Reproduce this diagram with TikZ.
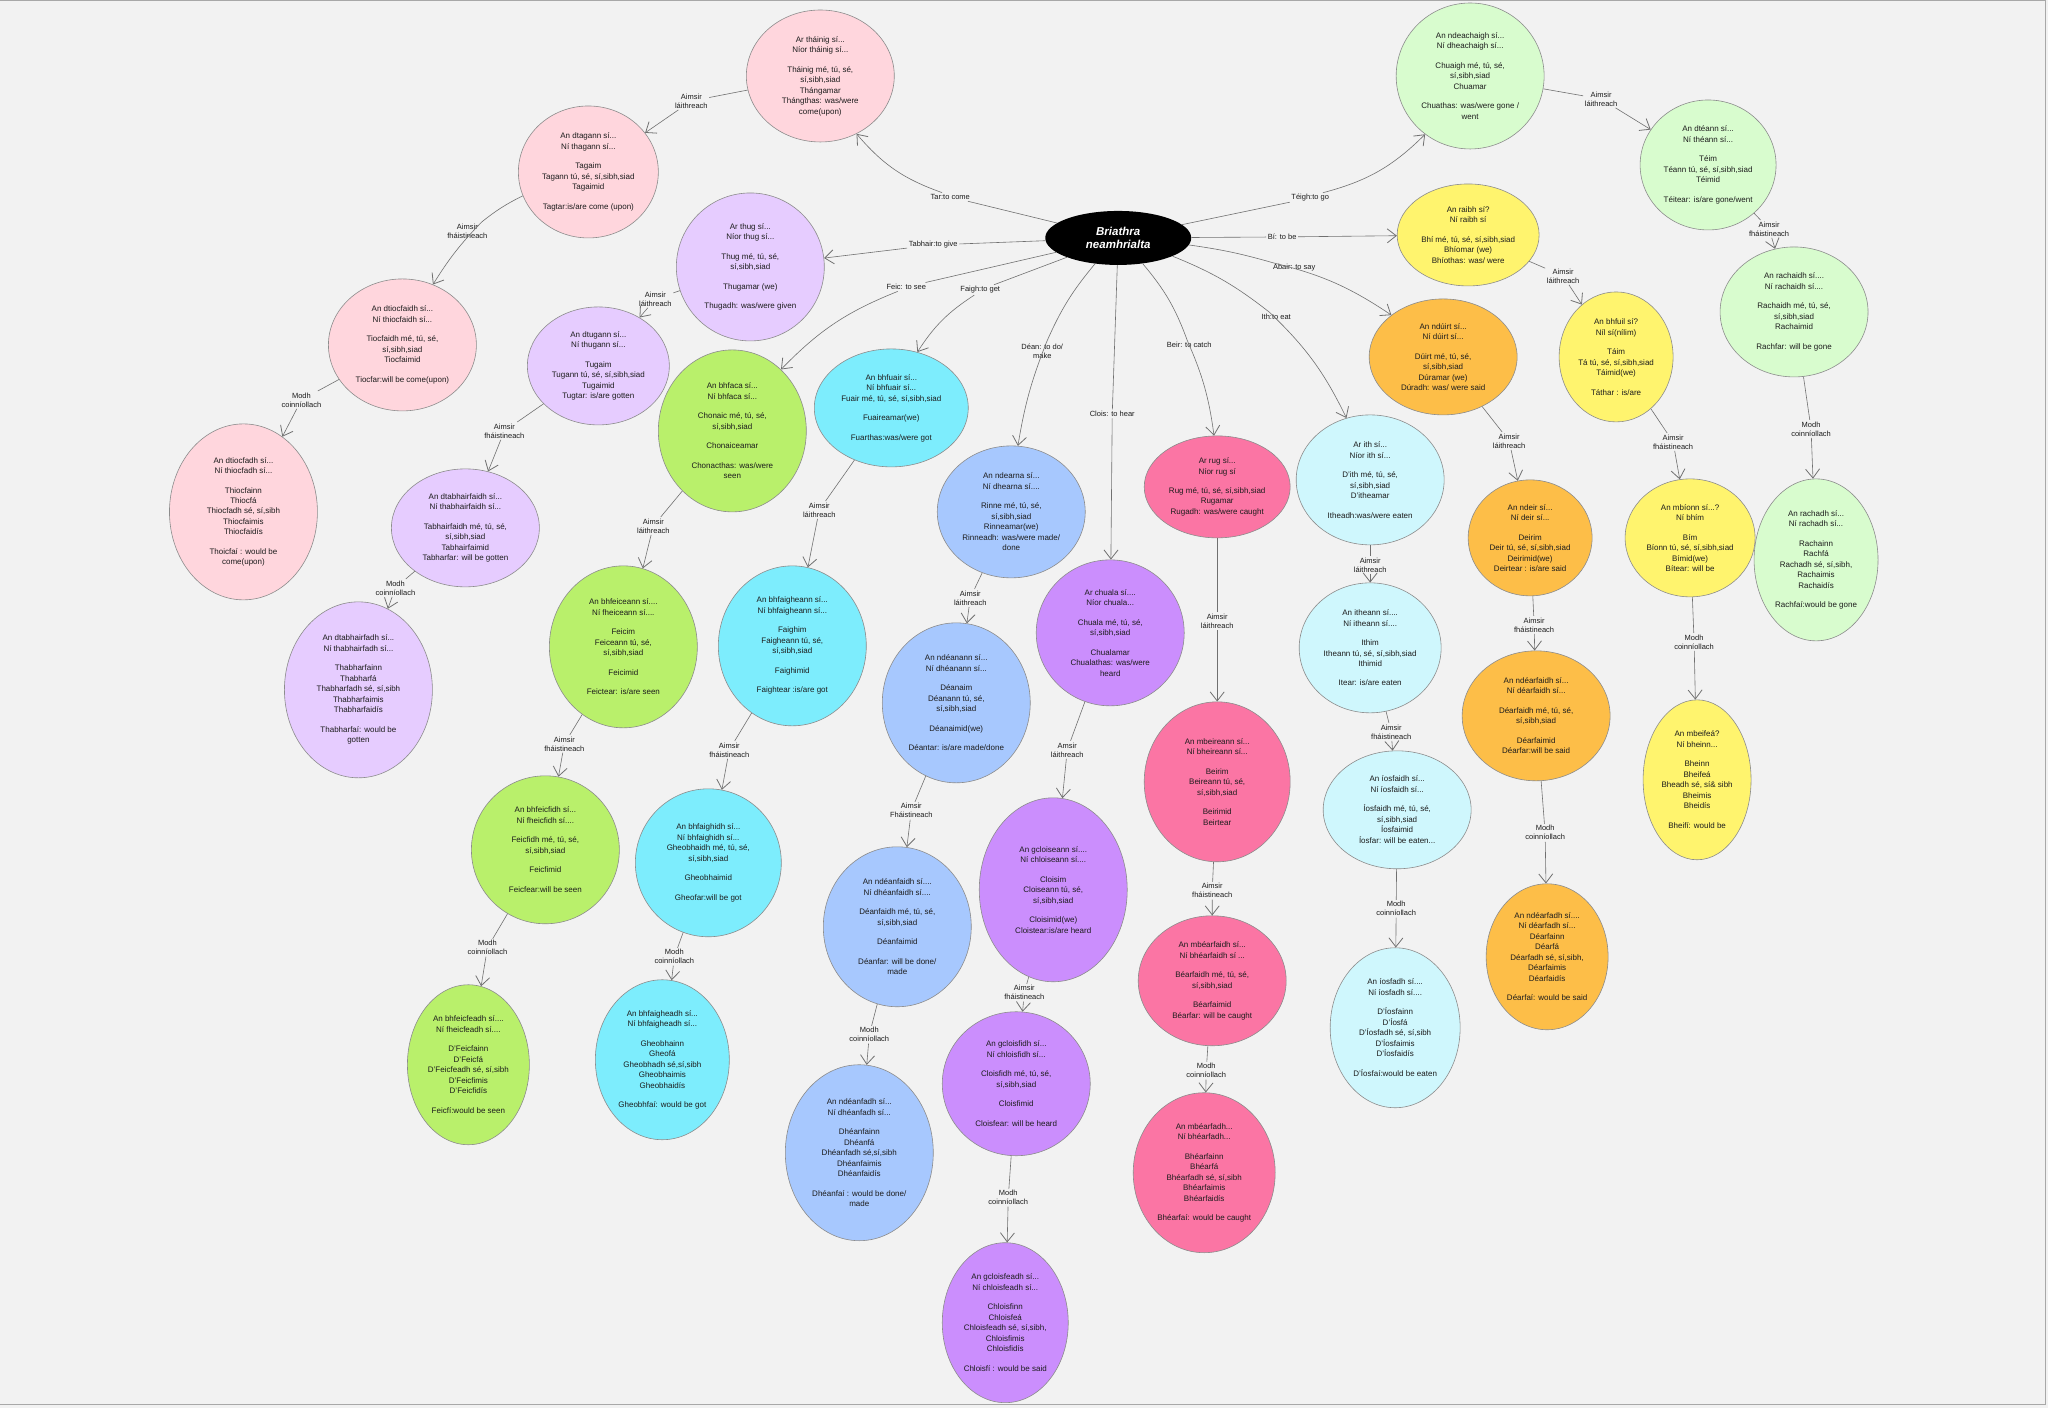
\documentclass[tikz,border=0pt]{standalone}
\usepackage{fontspec}
\setmainfont{Liberation Sans}
\usetikzlibrary{shapes.geometric,arrows.meta}
\definecolor{paper}{HTML}{F2F2F2}
\definecolor{frame}{HTML}{A8A8A8}
\definecolor{rim}{HTML}{8C8C8C}
\definecolor{wire}{HTML}{707070}
\definecolor{ink}{HTML}{1C1C1C}
\definecolor{tarpink}{HTML}{FFD6DD}
\definecolor{tablilac}{HTML}{E6CCFF}
\definecolor{feiclime}{HTML}{B9F06B}
\definecolor{faighcyan}{HTML}{7DEDFD}
\definecolor{deanblue}{HTML}{A7C8FE}
\definecolor{cloisviolet}{HTML}{CB8EFD}
\definecolor{beirrose}{HTML}{FB75A4}
\definecolor{ithice}{HTML}{CFF7FD}
\definecolor{abairorange}{HTML}{FDBE48}
\definecolor{biyellow}{HTML}{FFF46E}
\definecolor{teighmint}{HTML}{D8FCCE}
\newcommand\blankln{\\[9pt]}
\tikzset{
verb/.style={ellipse,draw=rim,line width=.6pt,inner sep=0pt,align=center,text=ink,font=\fontsize{8}{10.5}\selectfont},
dims/.style 2 args={minimum width=#1,minimum height=#2},
lbl/.style={inner sep=1.5pt,align=center,text=ink,font=\fontsize{7.5}{9}\selectfont},
conn/.style={draw=wire,line width=.6pt,-{Straight Barb[length=9pt,width=14pt,line width=.8pt]}}
}
\begin{document}
\begin{tikzpicture}[x=1pt,y=-1pt]
\fill[paper](0,0)rectangle(2048,1408);
\draw[frame,line width=1pt](0,1)--(2045,1)--(2045,1405)--(0,1405);
\useasboundingbox(0,0)rectangle(2048,1408);

% centre
\node[ellipse,fill=black,text=white,inner sep=0pt,dims={146}{54},align=center,font=\fontsize{11.5}{13}\selectfont\bfseries\itshape] (briathra) at (1118,238) {Briathra\\neamhrialta};

% Tar
\node[verb,fill=tarpink,dims={148}{132}] (tar1) at (820,76) {Ar tháinig sí...\\Níor tháinig sí...\blankln Tháinig mé, tú, sé,\\sí,sibh,siad\\Thángamar\\Thángthas: was/were\\come(upon)};
\node[verb,fill=tarpink,dims={140}{132}] (tar2) at (588,172) {An dtagann sí...\\Ní thagann sí...\blankln Tagaim\\Tagann tú, sé, sí,sibh,siad\\Tagaimid\blankln Tagtar:is/are come (upon)};
\node[verb,fill=tarpink,dims={148}{132}] (tar3) at (402,345) {An dtiocfaidh sí...\\Ní thiocfaidh sí...\blankln Tiocfaidh mé, tú, sé,\\sí,sibh,siad\\Tiocfaimid\blankln Tiocfar:will be come(upon)};
\node[verb,fill=tarpink,dims={148}{176}] (tar4) at (243,512) {An dtiocfadh sí...\\Ní thiocfadh sí...\blankln Thiocfainn\\Thiocfá\\Thiocfadh sé, sí,sibh\\Thiocfaimis\\Thiocfaidís\blankln Thoicfaí : would be\\come(upon)};

% Tabhair
\node[verb,fill=tablilac,dims={148}{148}] (tab1) at (750,267) {Ar thug sí...\\Níor thug sí...\blankln Thug mé, tú, sé,\\sí,sibh,siad\blankln Thugamar (we)\blankln Thugadh: was/were given};
\node[verb,fill=tablilac,dims={142}{118}] (tab2) at (598,366) {An dtugann sí...\\Ní thugann sí...\blankln Tugaim\\Tugann tú, sé, sí,sibh,siad\\Tugaimid\\Tugtar: is/are gotten};
\node[verb,fill=tablilac,dims={148}{118}] (tab3) at (465,528) {An dtabhairfaidh sí...\\Ní thabhairfaidh sí...\blankln Tabhairfaidh mé, tú, sé,\\sí,sibh,siad\\Tabhairfaimid\\Tabharfar: will be gotten};
\node[verb,fill=tablilac,dims={148}{176}] (tab4) at (358,690) {An dtabhairfadh sí...\\Ní thabhairfadh sí...\blankln Thabharfainn\\Thabharfá\\Thabharfadh sé, sí,sibh\\Thabharfaimis\\Thabharfaidís\blankln Thabharfaí: would be\\gotten};

% Feic
\node[verb,fill=feiclime,dims={148}{162}] (feic1) at (732,431) {An bhfaca sí...\\Ní bhfaca sí...\blankln Chonaic mé, tú, sé,\\sí,sibh,siad\blankln Chonaiceamar\blankln Chonacthas: was/were\\seen};
\node[verb,fill=feiclime,dims={148}{162}] (feic2) at (623,647) {An bhfeiceann sí....\\Ní fheiceann sí....\blankln Feicim\\Feiceann tú, sé,\\sí,sibh,siad\blankln Feicimid\blankln Feictear: is/are seen};
\node[verb,fill=feiclime,dims={148}{148}] (feic3) at (545,850) {An bhfeicfidh sí...\\Ní fheicfidh sí....\blankln Feicfidh mé, tú, sé,\\sí,sibh,siad\blankln Feicfimid\blankln Feicfear:will be seen};
\node[verb,fill=feiclime,dims={122}{160}] (feic4) at (468,1065) {An bhfeicfeadh sí....\\Ní fheicfeadh sí....\blankln D'Feicfainn\\D'Feicfá\\D'Feicfeadh sé, sí,sibh\\D'Feicfimis\\D'Feicfidís\blankln Feicfí:would be seen};

% Faigh
\node[verb,fill=faighcyan,dims={154}{118}] (faigh1) at (891,408) {An bhfuair sí...\\Ní bhfuair sí...\\Fuair mé, tú, sé, sí,sibh,siad\blankln Fuaireamar(we)\blankln Fuarthas:was/were got};
\node[verb,fill=faighcyan,dims={148}{160}] (faigh2) at (792,646) {An bhfaigheann sí...\\Ní bhfaigheann sí...\blankln Faighim\\Faigheann tú, sé,\\sí,sibh,siad\blankln Faighimid\blankln Faightear :is/are got};
\node[verb,fill=faighcyan,dims={146}{148}] (faigh3) at (708,863) {An bhfaighidh sí...\\Ní bhfaighidh sí...\\Gheobhaidh mé, tú, sé,\\sí,sibh,siad\blankln Gheobhaimid\blankln Gheofar:will be got};
\node[verb,fill=faighcyan,dims={134}{160}] (faigh4) at (662,1060) {An bhfaigheadh sí...\\Ní bhfaigheadh sí...\blankln Gheobhainn\\Gheofá\\Gheobhadh sé,sí,sibh\\Gheobhaimis\\Gheobhaidís\blankln Gheobhfaí: would be got};

% Dean
\node[verb,fill=deanblue,dims={148}{132}] (dean1) at (1011,512) {An ndearna sí...\\Ní dhearna sí....\blankln Rinne mé, tú, sé,\\sí,sibh,siad\\Rinneamar(we)\\Rinneadh: was/were made/\\done};
\node[verb,fill=deanblue,dims={148}{160}] (dean2) at (956,703) {An ndéanann sí...\\Ní dhéanann sí...\blankln Déanaim\\Déanann tú, sé,\\sí,sibh,siad\blankln Déanaimid(we)\blankln Déantar: is/are made/done};
\node[verb,fill=deanblue,dims={148}{160}] (dean3) at (897,927) {An ndéanfaidh sí....\\Ní dhéanfaidh sí....\blankln Déanfaidh mé, tú, sé,\\sí,sibh,siad\blankln Déanfaimid\blankln Déanfar: will be done/\\made};
\node[verb,fill=deanblue,dims={148}{176}] (dean4) at (859,1153) {An ndéanfadh sí...\\Ní dhéanfadh sí...\blankln Dhéanfainn\\Dhéanfá\\Dhéanfadh sé,sí,sibh\\Dhéanfaimis\\Dhéanfaidís\blankln Dhéanfaí : would be done/\\made};

% Clois
\node[verb,fill=cloisviolet,dims={148}{146}] (clois1) at (1110,633) {Ar chuala sí....\\Níor chuala...\blankln Chuala mé, tú, sé,\\sí,sibh,siad\blankln Chualamar\\Chualathas: was/were\\heard};
\node[verb,fill=cloisviolet,dims={148}{184}] (clois2) at (1053,890) {An gcloiseann sí....\\Ní chloiseann sí....\blankln Cloisim\\Cloiseann tú, sé,\\sí,sibh,siad\blankln Cloisimid(we)\\Cloistear:is/are heard};
\node[verb,fill=cloisviolet,dims={148}{144}] (clois3) at (1016,1084) {An gcloisfidh sí...\\Ní chloisfidh sí...\blankln Cloisfidh mé, tú, sé,\\sí,sibh,siad\blankln Cloisfimid\blankln Cloisfear: will be heard};
\node[verb,fill=cloisviolet,dims={126}{160}] (clois4) at (1005,1323) {An gcloisfeadh sí...\\Ní chloisfeadh sí...\blankln Chloisfinn\\Chloisfeá\\Chloisfeadh sé, sí,sibh,\\Chloisfimis\\Chloisfidís\blankln Chloisfí : would be said};

% Beir
\node[verb,fill=beirrose,dims={146}{102}] (beir1) at (1217,487) {Ar rug sí...\\Níor rug sí\blankln Rug mé, tú, sé, sí,sibh,siad\\Rugamar\\Rugadh: was/were caught};
\node[verb,fill=beirrose,dims={146}{160}] (beir2) at (1217,782) {An mbeireann sí...\\Ní bheireann sí...\blankln Beirim\\Beireann tú, sé,\\sí,sibh,siad\blankln Beirimid\\Beirtear};
\node[verb,fill=beirrose,dims={148}{130}] (beir3) at (1212,981) {An mbéarfaidh sí...\\Ní bhéarfaidh sí ...\blankln Béarfaidh mé, tú, sé,\\sí,sibh,siad\blankln Béarfaimid\\Béarfar: will be caught};
\node[verb,fill=beirrose,dims={142}{160}] (beir4) at (1204,1173) {An mbéarfadh...\\Ní bhéarfadh...\blankln Bhéarfainn\\Bhéarfá\\Bhéarfadh sé, sí,sibh\\Bhéarfaimis\\Bhéarfaidís\blankln Bhéarfaí: would be caught};

% Ith
\node[verb,fill=ithice,dims={148}{130}] (ith1) at (1370,480) {Ar ith sí...\\Níor ith sí...\blankln D'ith mé, tú, sé,\\sí,sibh,siad\\D'itheamar\blankln Itheadh:was/were eaten};
\node[verb,fill=ithice,dims={142}{130}] (ith2) at (1370,648) {An itheann sí....\\Ní itheann sí....\blankln Ithim\\Itheann tú, sé, sí,sibh,siad\\Ithimid\blankln Itear: is/are eaten};
\node[verb,fill=ithice,dims={148}{118}] (ith3) at (1397,810) {An íosfaidh sí...\\Ní íosfaidh sí...\blankln Íosfaidh mé, tú, sé,\\sí,sibh,siad\\Íosfaimid\\Íosfar: will be eaten...};
\node[verb,fill=ithice,dims={130}{160}] (ith4) at (1395,1028) {An íosfadh sí....\\Ní íosfadh sí....\blankln D'Íosfainn\\D'Íosfá\\D'Íosfadh sé, sí,sibh\\D'Íosfaimis\\D'Íosfaidís\blankln D'Íosfaí:would be eaten};

% Abair
\node[verb,fill=abairorange,dims={148}{116}] (abair1) at (1443,357) {An ndúirt sí...\\Ní dúirt sí...\blankln Dúirt mé, tú, sé,\\sí,sibh,siad\\Dúramar (we)\\Dúradh: was/ were said};
\node[verb,fill=abairorange,dims={124}{116}] (abair2) at (1530,538) {An ndeir sí...\\Ní deir sí...\blankln Deirim\\Deir tú, sé, sí,sibh,siad\\Deirimid(we)\\Deirtear : is/are said};
\node[verb,fill=abairorange,dims={148}{130}] (abair3) at (1536,716) {An ndéarfaidh sí...\\Ní déarfaidh sí...\blankln Déarfaidh mé, tú, sé,\\sí,sibh,siad\blankln Déarfaimid\\Déarfar:will be said};
\node[verb,fill=abairorange,dims={122}{146}] (abair4) at (1547,957) {An ndéarfadh sí....\\Ní déarfadh sí...\\Déarfainn\\Déarfá\\Déarfadh sé, sí,sibh,\\Déarfaimis\\Déarfaidís\blankln Déarfaí: would be said};

% Bi
\node[verb,fill=biyellow,dims={142}{102}] (bi1) at (1468,235) {An raibh sí?\\Ní raibh sí\blankln Bhí mé, tú, sé, sí,sibh,siad\\Bhíomar (we)\\Bhíothas: was/ were};
\node[verb,fill=biyellow,dims={114}{130}] (bi2) at (1616,357) {An bhfuil sí?\\Níl sí(nílim)\blankln Táim\\Tá tú, sé, sí,sibh,siad\\Táimid(we)\blankln Táthar : is/are};
\node[verb,fill=biyellow,dims={130}{118}] (bi3) at (1690,538) {An mbíonn sí...?\\Ní bhím\blankln Bím\\Bíonn tú, sé, sí,sibh,siad\\Bímid(we)\\Bítear: will be};
\node[verb,fill=biyellow,dims={108}{160}] (bi4) at (1697,780) {An mbeifeá?\\Ní bheinn...\blankln Bheinn\\Bheifeá\\Bheadh sé, sí\& sibh\\Bheimis\\Bheidís\blankln Bheifí: would be};

% Teigh
\node[verb,fill=teighmint,dims={148}{146}] (teigh1) at (1470,76) {An ndeachaigh sí...\\Ní dheachaigh sí...\blankln Chuaigh mé, tú, sé,\\sí,sibh,siad\\Chuamar\blankln Chuathas: was/were gone /\\went};
\node[verb,fill=teighmint,dims={136}{130}] (teigh2) at (1708,165) {An dtéann sí...\\Ní théann sí...\blankln Téim\\Téann tú, sé, sí,sibh,siad\\Téimid\blankln Téitear: is/are gone/went};
\node[verb,fill=teighmint,dims={148}{130}] (teigh3) at (1794,312) {An rachaidh sí....\\Ní rachaidh sí....\blankln Rachaidh mé, tú, sé,\\sí,sibh,siad\\Rachaimid\blankln Rachfar: will be gone};
\node[verb,fill=teighmint,dims={124}{162}] (teigh4) at (1816,560) {An rachadh sí...\\Ní rachadh sí...\blankln Rachainn\\Rachfá\\Rachadh sé, sí,sibh,\\Rachaimis\\Rachaidís\blankln Rachfaí:would be gone};

% branch labels
\node[lbl] (lTar) at (950,197) {Tar:to come};
\node[lbl] (lTab) at (933,245) {Tabhair:to give};
\node[lbl] (lFeic) at (906,287) {Feic: to see};
\node[lbl] (lFaigh) at (980,290) {Faigh:to get};
\node[lbl] (lDean) at (1042,351) {Déan: to do/\\make};
\node[lbl] (lClois) at (1112,414) {Clois: to hear};
\node[lbl] (lBeir) at (1189,345) {Beir: to catch};
\node[lbl] (lIth) at (1276,317) {Ith:to eat};
\node[lbl] (lAbair) at (1294,268) {Abair: to say};
\node[lbl] (lBi) at (1282,237) {Bí: to be};
\node[lbl] (lTeigh) at (1310,198) {Téigh:to go};

% tense labels
\node[lbl] (lTar12) at (691,101) {Aimsir\\láithreach};
\node[lbl] (lTar23) at (467,231) {Aimsir\\fháistineach};
\node[lbl] (lTar34) at (301,400) {Modh\\coinníollach};
\node[lbl] (lTab12) at (655,299) {Aimsir\\láithreach};
\node[lbl] (lTab23) at (504,431) {Aimsir\\fháistineach};
\node[lbl] (lTab34) at (395,588) {Modh\\coinníollach};
\node[lbl] (lFeic12) at (653,526) {Aimsir\\láithreach};
\node[lbl] (lFeic23) at (564,744) {Aimsir\\fháistineach};
\node[lbl] (lFeic34) at (487,948) {Modh\\coinníollach};
\node[lbl] (lFaigh12) at (819,510) {Aimsir\\láithreach};
\node[lbl] (lFaigh23) at (729,750) {Aimsir\\fháistineach};
\node[lbl] (lFaigh34) at (674,957) {Modh\\coinníollach};
\node[lbl] (lDean12) at (970,598) {Aimsir\\láithreach};
\node[lbl] (lDean23) at (911,811) {Aimsir\\Fháistineach};
\node[lbl] (lDean34) at (869,1035) {Modh\\coinníollach};
\node[lbl] (lClois12) at (1067,750) {Amsir\\láithreach};
\node[lbl] (lClois23) at (1024,993) {Aimsir\\fháistineach};
\node[lbl] (lClois34) at (1008,1198) {Modh\\coinníollach};
\node[lbl] (lBeir12) at (1217,621) {Aimsir\\láithreach};
\node[lbl] (lBeir23) at (1212,891) {Aimsir\\fháistineach};
\node[lbl] (lBeir34) at (1206,1071) {Modh\\coinníollach};
\node[lbl] (lIth12) at (1370,565) {Aimsir\\láithreach};
\node[lbl] (lIth23) at (1391,732) {Aimsir\\fháistineach};
\node[lbl] (lIth34) at (1396,909) {Modh\\coinníollach};
\node[lbl] (lAbair12) at (1509,441) {Aimsir\\láithreach};
\node[lbl] (lAbair23) at (1534,625) {Aimsir\\fháistineach};
\node[lbl] (lAbair34) at (1545,833) {Modh\\coinníollach};
\node[lbl] (lBi12) at (1563,276) {Aimsir\\láithreach};
\node[lbl] (lBi23) at (1673,442) {Aimsir\\fháistineach};
\node[lbl] (lBi34) at (1694,642) {Modh\\coinníollach};
\node[lbl] (lTeigh12) at (1601,99) {Aimsir\\láithreach};
\node[lbl] (lTeigh23) at (1769,229) {Aimsir\\fháistineach};
\node[lbl] (lTeigh34) at (1811,429) {Modh\\coinníollach};

% branches from the centre
\draw[conn] (briathra) -- (lTar) to[bend left=15] (tar1);
\draw[conn] (briathra) -- (lTab) -- (tab1);
\draw[conn] (briathra) -- (lFeic) to[bend right=12] (feic1);
\draw[conn] (briathra) -- (lFaigh) to[bend right=12] (faigh1);
\draw[conn] (briathra) to[bend right=8] (lDean) to[bend right=6] (dean1);
\draw[conn] (briathra) -- (lClois) -- (clois1);
\draw[conn] (briathra) to[bend left=10] (lBeir) to[bend left=8] (beir1);
\draw[conn] (briathra) to[bend left=8] (lIth) to[bend left=10] (ith1);
\draw[conn] (briathra) to[bend left=4] (lAbair) to[bend left=10] (abair1);
\draw[conn] (briathra) -- (lBi) -- (bi1);
\draw[conn] (briathra) -- (lTeigh) to[bend right=15] (teigh1);

% tenses
\draw[conn] (tar1) -- (lTar12) -- (tar2);
\draw[conn] (tar2) to[bend right=6] (lTar23) to[bend right=6] (tar3);
\draw[conn] (tar3) -- (lTar34) -- (tar4);
\draw[conn] (tab1) -- (lTab12) -- (tab2);
\draw[conn] (tab2) -- (lTab23) -- (tab3);
\draw[conn] (tab3) -- (lTab34) -- (tab4);
\draw[conn] (feic1) -- (lFeic12) -- (feic2);
\draw[conn] (feic2) -- (lFeic23) -- (feic3);
\draw[conn] (feic3) -- (lFeic34) -- (feic4);
\draw[conn] (faigh1) -- (lFaigh12) -- (faigh2);
\draw[conn] (faigh2) -- (lFaigh23) -- (faigh3);
\draw[conn] (faigh3) -- (lFaigh34) -- (faigh4);
\draw[conn] (dean1) -- (lDean12) -- (dean2);
\draw[conn] (dean2) -- (lDean23) -- (dean3);
\draw[conn] (dean3) -- (lDean34) -- (dean4);
\draw[conn] (clois1) -- (lClois12) -- (clois2);
\draw[conn] (clois2) -- (lClois23) -- (clois3);
\draw[conn] (clois3) -- (lClois34) -- (clois4);
\draw[conn] (beir1) -- (lBeir12) -- (beir2);
\draw[conn] (beir2) -- (lBeir23) -- (beir3);
\draw[conn] (beir3) -- (lBeir34) -- (beir4);
\draw[conn] (ith1) -- (lIth12) -- (ith2);
\draw[conn] (ith2) -- (lIth23) -- (ith3);
\draw[conn] (ith3) -- (lIth34) -- (ith4);
\draw[conn] (abair1) -- (lAbair12) -- (abair2);
\draw[conn] (abair2) -- (lAbair23) -- (abair3);
\draw[conn] (abair3) -- (lAbair34) -- (abair4);
\draw[conn] (bi1) -- (lBi12) -- (bi2);
\draw[conn] (bi2) -- (lBi23) -- (bi3);
\draw[conn] (bi3) -- (lBi34) -- (bi4);
\draw[conn] (teigh1) -- (lTeigh12) -- (teigh2);
\draw[conn] (teigh2) -- (lTeigh23) -- (teigh3);
\draw[conn] (teigh3) -- (lTeigh34) -- (teigh4);
\end{tikzpicture}
\end{document}
